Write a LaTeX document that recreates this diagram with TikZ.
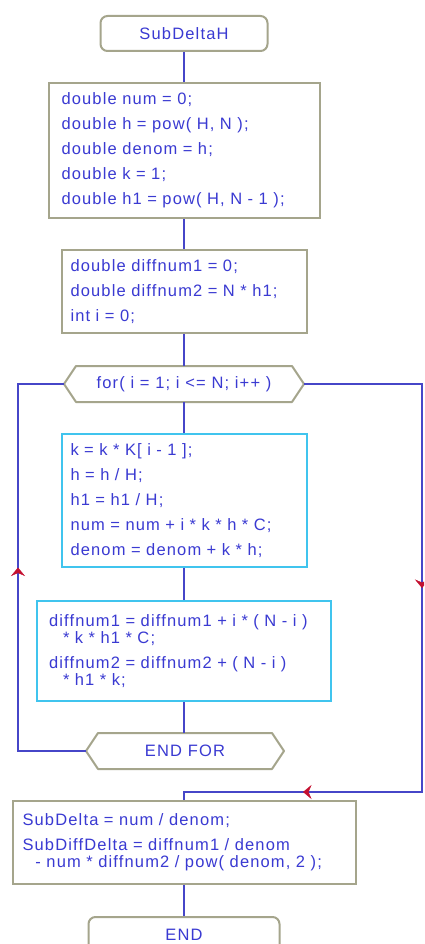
\documentclass[tikz,border=0pt]{standalone}
\usepackage{fontspec}
\setmainfont{Liberation Sans}
\newfontfamily\codefont[LetterSpace=7]{Liberation Sans}
\usetikzlibrary{arrows.meta,decorations.markings}
\definecolor{txt}{HTML}{3A3AD2}
\definecolor{ln}{HTML}{4646C8}
\definecolor{olv}{HTML}{A5A58C}
\definecolor{cyn}{HTML}{40C4EE}
\definecolor{rd}{HTML}{C41030}
\tikzset{
 base/.style={font=\codefont\fontsize{16.5}{17}\selectfont, text=txt, line width=2pt},
 term/.style={base, draw=olv, rounded corners=7pt, minimum height=35pt, inner sep=0pt},
 stmt/.style={base, draw=olv, align=left, inner ysep=0pt},
 loopbox/.style={base, draw=cyn, align=left, inner ysep=0pt},
 hexa/.style={base, inner sep=0pt, minimum height=34pt},
 hexline/.style={draw=olv, line width=2pt, line join=round},
 conn/.style={draw=ln, line width=2pt},
 midarrow/.style={postaction={decorate}, decoration={markings, mark=at position 0.5 with {\arrow[rd]{Stealth[length=8.5pt,width=14pt,inset=3pt]}}}},
}
\begin{document}
\begin{tikzpicture}[x=1pt,y=-1pt]
\useasboundingbox (0,0) rectangle (424,944);
\clip (0,0) rectangle (424,944);
\fill[white] (0,0) rectangle (424,944);

\node[term, minimum width=167pt] (start) at (184,33.5) {SubDeltaH};

\node[stmt, text width=245pt, inner xsep=13pt, minimum height=135pt] (b1) at (184,150.5)
 {double num = 0;\\[8pt]double h = pow( H, N );\\[8pt]double denom = h;\\[8pt]double k = 1;\\[8pt]double h1 = pow( H, N - 1 );};

\node[stmt, text width=227pt, inner xsep=9pt, minimum height=83pt] (b2) at (184,291.5)
 {double diffnum1 = 0;\\[8pt]double diffnum2 = N * h1;\\[8pt]int i = 0;};

\node[hexa, minimum width=238pt] (for) at (184,384) {for( i = 1; i <= N; i++ )};
\draw[hexline] (for.west) -- ([xshift=12pt]for.north west) -- ([xshift=-12pt]for.north east) -- (for.east) -- ([xshift=-12pt]for.south east) -- ([xshift=12pt]for.south west) -- cycle;

\node[loopbox, text width=227pt, inner xsep=9pt, minimum height=133pt] (b3) at (184,500.5)
 {k = k * K[ i - 1 ];\\[8pt]h = h / H;\\[8pt]h1 = h1 / H;\\[8pt]num = num + i * k * h * C;\\[8pt]denom = denom + k * h;};

\node[loopbox, text width=270pt, inner xsep=12pt, minimum height=100pt] (b4) at (184,651)
 {diffnum1 = diffnum1 + i * ( N - i )\\\hspace*{14pt}* k * h1 * C;\\[8pt]diffnum2 = diffnum2 + ( N - i )\\\hspace*{14pt}* h1 * k;};

\node[hexa, minimum width=196pt] (endfor) at (185,751) {END FOR};
\draw[hexline] (endfor.west) -- ([xshift=12pt]endfor.north west) -- ([xshift=-12pt]endfor.north east) -- (endfor.east) -- ([xshift=-12pt]endfor.south east) -- ([xshift=12pt]endfor.south west) -- cycle;

\node[stmt, text width=323pt, inner xsep=10pt, minimum height=83pt] (fin) at (184,842.5)
 {SubDelta = num / denom;\\[8pt]SubDiffDelta = diffnum1 / denom\\\hspace*{13pt}- num * diffnum2 / pow( denom, 2 );};

\node[term, minimum width=191pt] (end) at (184,934.5) {END};

\coordinate (lb) at (18,751);
\coordinate (lt) at (18,384);
\coordinate (rt) at (422,384);
\coordinate (rb) at (422,792);
\coordinate (jn) at (184,792);

\draw[conn] (start) -- (b1);
\draw[conn] (b1) -- (b2);
\draw[conn] (b2) -- (for);
\draw[conn] (for) -- (b3);
\draw[conn] (b3) -- (b4);
\draw[conn] (b4) -- (b4 |- endfor.north);
\draw[conn] (fin) -- (end);
\draw[conn] (endfor.west) -- (lb) -- (lt) -- (for.west);
\draw[conn] (for.east) -- (rt) -- (rb) -- (jn) -- (fin.north);
\path[midarrow] (lb) -- (lt);
\path[midarrow] (rt) -- (rb);
\path[midarrow] (rb) -- (jn);
\end{tikzpicture}
\end{document}
